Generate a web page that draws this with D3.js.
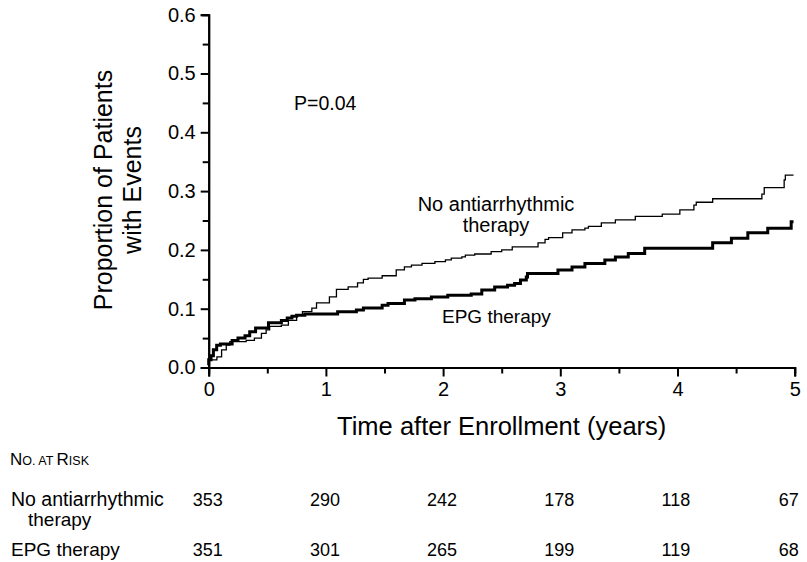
<!DOCTYPE html>
<html>
<head>
<meta charset="utf-8">
<script src="https://cdn.jsdelivr.net/npm/d3@7"></script>
<style>
  body { margin: 0; background: #fff; }
  svg text { font-family: "Liberation Sans", Arial, sans-serif; fill: #000; }
</style>
</head>
<body>
<svg id="chart" width="807" height="562"></svg>
<script>
// Kaplan-Meier style cumulative event curves
var years = [0, 1, 2, 3, 4, 5];
var propTicks = [0, 0.1, 0.2, 0.3, 0.4, 0.5, 0.6];

var noTherapyTime = [0, 0, 0.07, 0.11, 0.15, 0.18, 0.32, 0.39, 0.45, 0.49, 0.52, 0.62, 0.68, 0.75, 0.8, 0.88, 0.92,
    1.03, 1.09, 1.19, 1.27, 1.32, 1.36, 1.48, 1.6, 1.67, 1.73, 1.82, 1.93, 2.02, 2.07, 2.16, 2.19, 2.27, 2.41, 2.5,
    2.59, 2.81, 2.87, 2.9, 3.02, 3.1, 3.21, 3.24, 3.35, 3.47, 3.64, 3.87, 4.02, 4.14, 4.16, 4.3, 4.72, 4.74, 4.91,
    4.92, 4.99];
var noTherapyProp = [0.004, 0.013, 0.018, 0.03, 0.038, 0.044, 0.046, 0.05, 0.058, 0.064, 0.07, 0.072, 0.08, 0.089,
    0.095, 0.101, 0.11, 0.12, 0.133, 0.137, 0.144, 0.15, 0.152, 0.156, 0.166, 0.171, 0.174, 0.177, 0.18, 0.183, 0.186,
    0.188, 0.191, 0.193, 0.197, 0.2, 0.205, 0.212, 0.218, 0.221, 0.229, 0.234, 0.237, 0.24, 0.246, 0.251, 0.257,
    0.261, 0.268, 0.276, 0.281, 0.287, 0.295, 0.306, 0.319, 0.327, 0.327];

var epgTime = [0, 0, 0.02, 0.04, 0.068, 0.1, 0.2, 0.25, 0.31, 0.35, 0.4, 0.51, 0.62, 0.67, 0.71, 0.75, 0.82, 1.1,
    1.26, 1.32, 1.48, 1.53, 1.67, 1.76, 1.9, 2.04, 2.24, 2.33, 2.44, 2.55, 2.61, 2.66, 2.71, 2.72, 2.98, 3.1, 3.21,
    3.38, 3.47, 3.58, 3.72, 4.3, 4.46, 4.6, 4.77, 4.97, 4.99];
var epgProp = [0.004, 0.013, 0.02, 0.03, 0.038, 0.04, 0.046, 0.05, 0.054, 0.061, 0.067, 0.076, 0.08, 0.084, 0.087,
    0.089, 0.091, 0.095, 0.098, 0.101, 0.106, 0.109, 0.115, 0.117, 0.12, 0.123, 0.125, 0.132, 0.137, 0.14, 0.143,
    0.149, 0.154, 0.16, 0.166, 0.171, 0.177, 0.183, 0.188, 0.194, 0.203, 0.212, 0.22, 0.229, 0.237, 0.248, 0.248];

var atRiskNoTherapy = [353, 290, 242, 178, 118, 67];
var atRiskEpg = [351, 301, 265, 199, 119, 68];

var svg = d3.select('#chart');

var x = d3.scaleLinear().domain([0, 5]).range([208.7, 794.7]);
var y = d3.scaleLinear().domain([0, 0.6]).range([367.5, 14.7]);

// axes: labelled major ticks plus short unlabelled half-steps
var gx = svg.append('g').attr('transform', 'translate(0,' + y(0) + ')');
gx.call(d3.axisBottom(x).tickValues(d3.range(0.5, 5, 1)).tickSize(6).tickFormat(''));
gx.call(function (g) {
    g.append('g').call(d3.axisBottom(x).tickValues(years).tickSize(9).tickPadding(5).tickFormat(d3.format('d')));
});

var gy = svg.append('g').attr('transform', 'translate(' + x(0) + ',0)');
gy.call(d3.axisLeft(y).tickValues(d3.range(0.05, 0.6, 0.1)).tickSize(6).tickFormat(''));
gy.call(function (g) {
    g.append('g').call(d3.axisLeft(y).tickValues(propTicks).tickSize(8).tickPadding(5).tickFormat(d3.format('.1f')));
});

svg.selectAll('.domain').attr('stroke', '#000').attr('stroke-width', 2);
svg.selectAll('.tick line').attr('stroke', '#000').attr('stroke-width', 2);
svg.selectAll('.tick text').style('font-size', '20px');

// curves
var line = d3.line()
    .x(function (d) { return x(d[0]); })
    .y(function (d) { return y(d[1]); })
    .curve(d3.curveStepAfter);

svg.append('path')
    .datum(d3.zip(noTherapyTime, noTherapyProp))
    .attr('d', line)
    .attr('fill', 'none').attr('stroke', '#000').attr('stroke-width', 1.3);

svg.append('path')
    .datum(d3.zip(epgTime, epgProp))
    .attr('d', line)
    .attr('fill', 'none').attr('stroke', '#000').attr('stroke-width', 3);

// annotations
svg.append('text').attr('x', 294).attr('y', 110).style('font-size', '19.5px').text('P=0.04');

var lab = svg.append('text').attr('text-anchor', 'middle').style('font-size', '20px');
lab.append('tspan').attr('x', 496).attr('y', 211).text('No antiarrhythmic');
lab.append('tspan').attr('x', 496).attr('y', 232).text('therapy');

svg.append('text').attr('x', 442).attr('y', 323).style('font-size', '19px').text('EPG therapy');

// axis titles
svg.append('text').attr('x', x(2.5)).attr('y', 435).attr('text-anchor', 'middle')
    .style('font-size', '25.5px').text('Time after Enrollment (years)');

var yt = svg.append('text').attr('transform', 'translate(112,190) rotate(-90)')
    .attr('text-anchor', 'middle').style('font-size', '25px');
yt.append('tspan').attr('x', 0).attr('y', 0).text('Proportion of Patients');
yt.append('tspan').attr('x', 0).attr('y', 29).text('with Events');

// number at risk table
var hdr = svg.append('text').attr('x', 10).attr('y', 465).style('font-size', '17px');
hdr.append('tspan').text('N');
hdr.append('tspan').style('font-size', '12.5px').text('O. AT ');
hdr.append('tspan').text('R');
hdr.append('tspan').style('font-size', '12.5px').text('ISK');

svg.append('text').attr('x', 11).attr('y', 506).style('font-size', '19.5px').text('No antiarrhythmic');
svg.append('text').attr('x', 28).attr('y', 526).style('font-size', '19px').text('therapy');
svg.append('text').attr('x', 11).attr('y', 556).style('font-size', '19px').text('EPG therapy');

svg.append('g').selectAll('text').data(atRiskNoTherapy).enter().append('text')
    .attr('x', function (d, i) { return x(years[i]) - 16; })
    .attr('y', 506).style('font-size', '18px')
    .text(function (d) { return d; });

svg.append('g').selectAll('text').data(atRiskEpg).enter().append('text')
    .attr('x', function (d, i) { return x(years[i]) - 16; })
    .attr('y', 556).style('font-size', '18px')
    .text(function (d) { return d; });
</script>
</body>
</html>
